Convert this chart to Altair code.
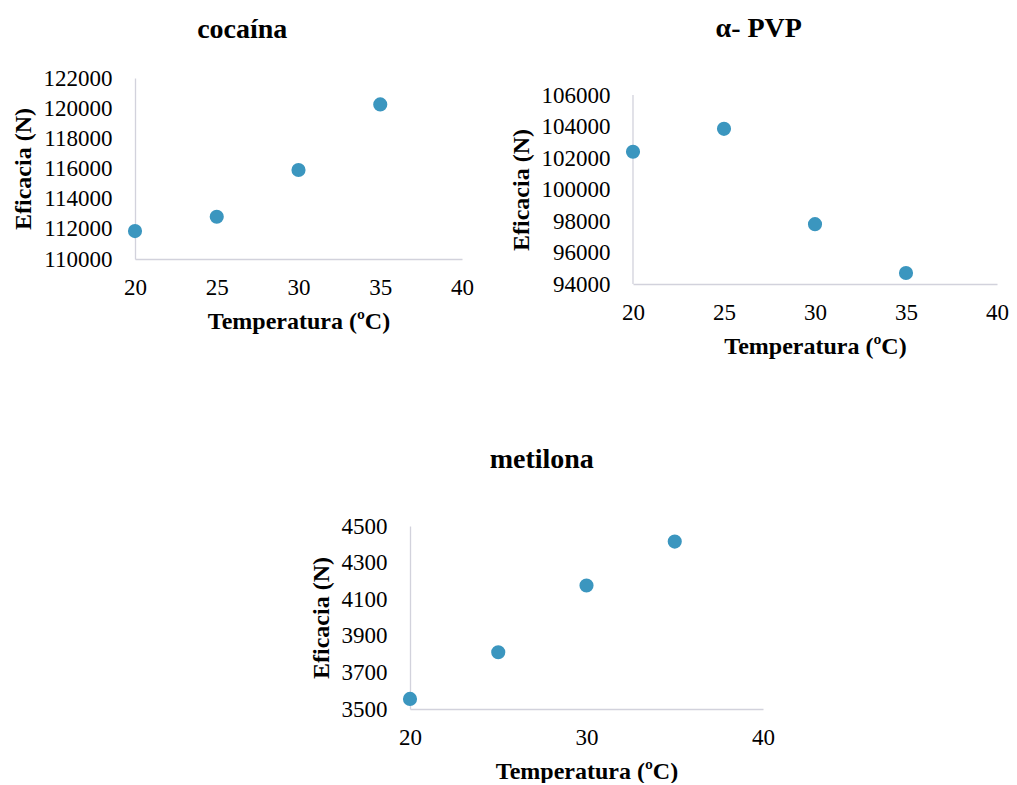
import altair as alt
import pandas as pd

temperatura = [20, 25, 30, 35]
cocaina = [111850, 112800, 115900, 120250]
apvp = [102400, 103850, 97800, 94700]
metilona = [3555, 3810, 4175, 4415]

FONT = "Liberation Serif"
POINT = "#3b96bf"
AXIS = "#d2d2dc"

AX = dict(
    labelFont=FONT, labelFontSize=23, labelColor="black", labelFlush=False,
    labelOverlap=False,
    titleFont=FONT, titleFontSize=24, titleFontWeight="bold", titleColor="black",
)


def panel(values, title, ydomain, yvals, xvals, w, h, toff, extra_h=0):
    df = pd.DataFrame({"Temperatura": temperatura, "Eficacia": values})
    top_val = ydomain[0] + (ydomain[1] - ydomain[0]) * (h + extra_h) / h
    yaxis_kw = dict(values=yvals, title="Eficacia (N)", format="d",
                    labelPadding=23, titlePadding=8, domain=extra_h == 0, **AX)
    if extra_h:
        yaxis_kw["titleY"] = extra_h + h / 2
    xenc = alt.X(
        "Temperatura:Q",
        scale=alt.Scale(domain=[20, 40], nice=False, zero=False),
        axis=alt.Axis(values=xvals, title="Temperatura (ºC)", format="d",
                      labelPadding=17, titlePadding=10, **AX),
    )
    yscale = alt.Scale(domain=[ydomain[0], top_val], nice=False, zero=False)
    yaxis = alt.Axis(**yaxis_kw)
    pts = alt.Chart(df).mark_circle(size=200, color=POINT, opacity=1).encode(
        x=xenc, y=alt.Y("Eficacia:Q", scale=yscale, axis=yaxis),
    )
    layers = [pts]
    if extra_h:
        # y axis line drawn only up to the top tick value
        axis_line = (
            alt.Chart(pd.DataFrame({"Temperatura": [20], "Eficacia": [ydomain[0]],
                                    "Top": [ydomain[1]]}))
            .mark_rule(color=AXIS, strokeWidth=1.3)
            .encode(x=xenc, y=alt.Y("Eficacia:Q", scale=yscale, axis=yaxis),
                    y2="Top:Q")
        )
        layers = [axis_line, pts]
    return alt.layer(
        *layers,
        title=alt.Title(
            title, font=FONT, fontSize=28, fontWeight="bold", color="black",
            anchor="middle", frame="bounds", offset=toff,
        ),
    ).properties(width=w, height=h + extra_h)


c1 = panel(cocaina, "cocaína", [110000, 122000],
           list(range(110000, 122001, 2000)), [20, 25, 30, 35, 40], 327, 181, 23)
c2 = panel(apvp, "α- PVP", [94000, 106000],
           list(range(94000, 106001, 2000)), [20, 25, 30, 35, 40], 364, 189, 35,
           extra_h=17)
c3 = panel(metilona, "metilona", [3500, 4500],
           list(range(3500, 4501, 200)), [20, 30, 40], 353, 183, 41)

spacer = (
    alt.Chart(pd.DataFrame({"a": [0]}))
    .mark_point(opacity=0)
    .encode(x=alt.X("a:Q", axis=None), y=alt.Y("a:Q", axis=None))
    .properties(width=174, height=10)
)

top = alt.hconcat(c1, c2, spacing=35)
bottom = alt.hconcat(spacer, c3, spacing=0)

chart = (
    alt.vconcat(top, bottom, spacing=88)
    .properties(padding={"left": 3, "top": 7, "right": 0, "bottom": 0})
    .configure_view(stroke=None)
    .configure_axis(grid=False, ticks=False, domainColor=AXIS, domainWidth=1.3)
)

chart.save("out.html", embed_options={"renderer": "svg", "actions": False})
